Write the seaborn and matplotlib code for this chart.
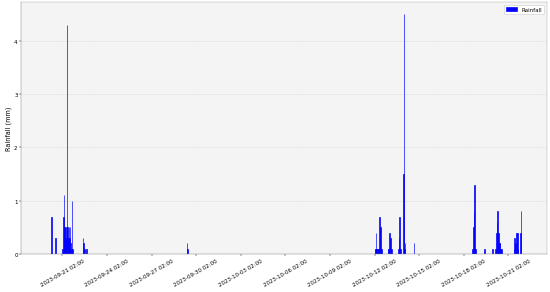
import pandas as pd
import matplotlib
matplotlib.use("Agg")
import matplotlib.pyplot as plt
import seaborn as sns

# hourly rainfall readings (non-zero hours only)
rain_times = [
    "2023-09-20 08:00", "2023-09-20 14:00",
    "2023-09-21 02:00", "2023-09-21 03:00", "2023-09-21 04:00", "2023-09-21 05:00",
    "2023-09-21 06:00", "2023-09-21 07:00", "2023-09-21 08:00", "2023-09-21 09:00",
    "2023-09-21 10:00", "2023-09-21 11:00", "2023-09-21 12:00", "2023-09-21 13:00",
    "2023-09-21 14:00", "2023-09-21 15:00", "2023-09-21 16:00", "2023-09-21 17:00",
    "2023-09-21 18:00",
    "2023-09-22 11:00", "2023-09-22 12:00", "2023-09-22 13:00", "2023-09-22 17:00",
    "2023-09-29 11:00", "2023-09-29 12:00",
    "2023-10-12 02:00", "2023-10-12 03:00", "2023-10-12 04:00", "2023-10-12 05:00",
    "2023-10-12 06:00", "2023-10-12 07:00", "2023-10-12 08:00", "2023-10-12 09:00",
    "2023-10-12 10:00", "2023-10-12 11:00", "2023-10-12 12:00", "2023-10-12 13:00",
    "2023-10-12 23:00", "2023-10-13 00:00", "2023-10-13 01:00", "2023-10-13 02:00",
    "2023-10-13 03:00", "2023-10-13 04:00", "2023-10-13 05:00",
    "2023-10-13 16:00", "2023-10-13 17:00", "2023-10-13 18:00", "2023-10-13 19:00",
    "2023-10-14 00:00", "2023-10-14 01:00", "2023-10-14 02:00", "2023-10-14 03:00",
    "2023-10-14 17:00",
    "2023-10-18 16:00", "2023-10-18 17:00", "2023-10-18 18:00", "2023-10-18 19:00",
    "2023-10-18 20:00", "2023-10-18 21:00",
    "2023-10-19 11:00", "2023-10-20 00:00",
    "2023-10-20 05:00", "2023-10-20 06:00", "2023-10-20 07:00", "2023-10-20 08:00",
    "2023-10-20 09:00", "2023-10-20 10:00", "2023-10-20 11:00", "2023-10-20 12:00",
    "2023-10-20 13:00", "2023-10-20 14:00", "2023-10-20 15:00",
    "2023-10-21 11:00", "2023-10-21 12:00", "2023-10-21 13:00", "2023-10-21 14:00",
    "2023-10-21 15:00", "2023-10-21 16:00", "2023-10-21 17:00",
    "2023-10-21 21:00", "2023-10-21 22:00", "2023-10-21 23:00",
]
rain_mm = [
    0.7, 0.3,
    0.1, 0.7, 1.1, 0.5,
    0.5, 0.3, 0.5, 4.3,
    0.5, 0.3, 0.5, 0.3,
    0.5, 0.2, 0.1, 1.0,
    0.1,
    0.3, 0.2, 0.1, 0.1,
    0.2, 0.1,
    0.1, 0.1, 0.4, 0.1,
    0.1, 0.1, 0.1, 0.1,
    0.7, 0.5, 0.1, 0.1,
    0.1, 0.1, 0.1, 0.4,
    0.3, 0.1, 0.1,
    0.1, 0.3, 0.7, 0.1,
    1.5, 4.5, 0.1, 0.2,
    0.2,
    0.1, 0.5, 0.8, 1.3,
    0.1, 0.1,
    0.1, 0.1,
    0.1, 0.4, 0.6, 0.8,
    0.4, 0.4, 0.2, 0.2,
    0.1, 0.1, 0.1,
    0.1, 0.3, 0.2, 0.1,
    0.4, 0.4, 0.1,
    0.4, 0.7, 0.1,
]

tick_labels = [
    "2023-09-21 02:00", "2023-09-24 02:00", "2023-09-27 02:00", "2023-09-30 02:00",
    "2023-10-03 02:00", "2023-10-06 02:00", "2023-10-09 02:00", "2023-10-12 02:00",
    "2023-10-15 02:00", "2023-10-18 02:00", "2023-10-21 02:00",
]
x_start = "2023-09-18 08:00"
x_end = "2023-10-23 16:00"

df = pd.DataFrame({"time": pd.to_datetime(rain_times), "rain": rain_mm})

fig, ax = plt.subplots(figsize=(14, 7.458), dpi=550 / 14)
ax.set_facecolor("#f4f4f4")

sns.histplot(data=df, x="time", weights="rain", binwidth=1 / 24,
             color="blue", alpha=1, edgecolor="blue", linewidth=1.2,
             label="Rainfall", ax=ax)

ax.set_xlim(pd.Timestamp(x_start), pd.Timestamp(x_end))
ax.set_ylim(0, 4.725)
ax.set_xticks(pd.to_datetime(tick_labels))
ax.set_xticklabels(tick_labels, rotation=30)
ax.set_yticks([0, 1, 2, 3, 4])
ax.set_xlabel("")
ax.set_ylabel("Rainfall (mm)", fontsize=12)
ax.grid(axis="y", linestyle="--", color="#d8d8d8", linewidth=1)
ax.set_axisbelow(True)
for side in ["left", "bottom"]:
    ax.spines[side].set_color("#777777")
for side in ["top", "right"]:
    ax.spines[side].set_color("#aaaaaa")
ax.legend(loc="upper right", facecolor="white", framealpha=1)

plt.subplots_adjust(left=0.039, right=0.994, top=0.99, bottom=0.13)
plt.savefig("out.png")
